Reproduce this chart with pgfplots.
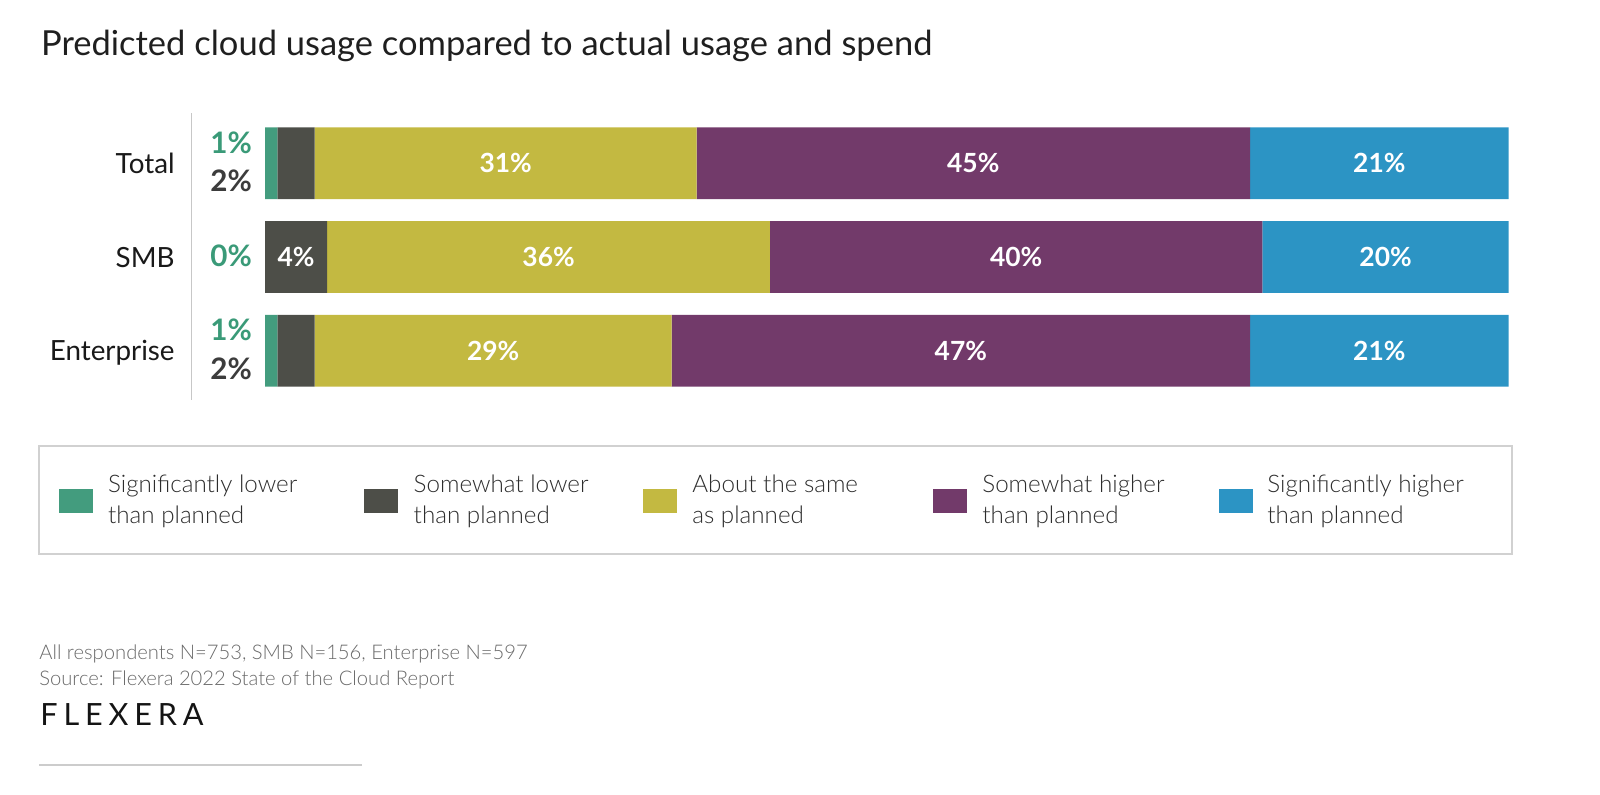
\documentclass[border=0pt]{standalone}
\usepackage{pgfplots}
\pgfplotsset{compat=1.18}
\usepackage{pgfplotstable}
\usepackage{fontspec}
\setmainfont{Lato}
\newfontfamily\lightfont{Lato Light}
\definecolor{cgreen}{RGB}{67,156,126}
\definecolor{cdark}{RGB}{77,78,72}
\definecolor{colive}{RGB}{195,185,65}
\definecolor{cpurple}{RGB}{114,58,106}
\definecolor{cblue}{RGB}{44,148,196}
\definecolor{tgreen}{RGB}{58,154,120}
\definecolor{tdark}{RGB}{60,60,60}
\definecolor{legtext}{RGB}{45,45,45}
\definecolor{foot}{RGB}{105,105,105}

\pgfplotstableread{
row sigl soml same somh sigh
0 1.0 3.0 30.7 44.5 20.8
1 0.0 5.0 35.6 39.6 19.8
2 1.0 3.0 28.7 46.5 20.8
}\datatab

\tikzset{
  catlab/.style={anchor=base east,inner sep=0,text=black!90,font=\fontsize{13.9}{16}\selectfont,xshift=-45pt,yshift=-5.05pt},
  outlab/.style={anchor=base east,inner sep=0,font=\fontsize{14.8}{16}\selectfont\bfseries,xshift=-6.35pt},
  inlab/.style={anchor=base,inner sep=0,text=white,yshift=-4.6pt,font=\fontsize{13.2}{15}\selectfont\bfseries},
  legl/.style={anchor=base west,inner sep=0,text=legtext,font=\lightfont\fontsize{12.1}{14}\selectfont},
  footl/.style={anchor=base west,inner sep=0,text=foot,font=\lightfont\fontsize{10.1}{12}\selectfont},
}

\begin{document}
\begin{tikzpicture}[x=0.5pt,y=-0.5pt]
\useasboundingbox (0,0) rectangle (1600,794);
% title
\node[anchor=base west,inner sep=0,text=black!88,font=\fontsize{17.25}{20}\selectfont] at (40.7,55) {Predicted cloud usage compared to actual usage and spend};
% separator line
\draw[color=black!22,line width=0.6pt] (191.7,113) -- (191.7,400);
\begin{axis}[
  at={(132.5pt,-58.15pt)}, anchor=north west,
  scale only axis, width=621.85pt, height=140.7pt,
  xmin=0, xmax=100, ymin=-0.5, ymax=2.5, y dir=reverse,
  xbar stacked, bar width=35.85pt,
  xtick=\empty, ytick=\empty,
  axis line style={draw=none},
  clip=false,
]
\addplot[fill=cgreen, draw=none] table[y=row, x=sigl]{\datatab};
\addplot[fill=cdark, draw=none] table[y=row, x=soml]{\datatab};
\addplot[fill=colive, draw=none] table[y=row, x=same]{\datatab};
\addplot[fill=cpurple, draw=none] table[y=row, x=somh]{\datatab};
\addplot[fill=cblue, draw=none] table[y=row, x=sigh]{\datatab};
% category labels
\node[catlab] at (axis cs:0,0) {Total};
\node[catlab] at (axis cs:0,1) {SMB};
\node[catlab] at (axis cs:0,2) {Enterprise};
% outside labels
\node[outlab,text=tgreen,yshift=4.95pt] at (axis cs:0,0) {1\%};
\node[outlab,text=tdark,yshift=-14.25pt] at (axis cs:0,0) {2\%};
\node[outlab,text=tgreen,yshift=-4.95pt] at (axis cs:0,1) {0\%};
\node[outlab,text=tgreen,yshift=5.05pt] at (axis cs:0,2) {1\%};
\node[outlab,text=tdark,yshift=-14.25pt] at (axis cs:0,2) {2\%};
% anchors for inside labels
\coordinate (a1) at (axis cs:19.35,0);
\coordinate (a2) at (axis cs:56.95,0);
\coordinate (a3) at (axis cs:89.6,0);
\coordinate (b0) at (axis cs:2.5,1);
\coordinate (b1) at (axis cs:22.8,1);
\coordinate (b2) at (axis cs:60.4,1);
\coordinate (b3) at (axis cs:90.1,1);
\coordinate (c1) at (axis cs:18.35,2);
\coordinate (c2) at (axis cs:55.95,2);
\coordinate (c3) at (axis cs:89.6,2);
\end{axis}
% inside labels
\node[inlab] at (a1) {31\%};
\node[inlab] at (a2) {45\%};
\node[inlab] at (a3) {21\%};
\node[inlab] at (b0) {4\%};
\node[inlab] at (b1) {36\%};
\node[inlab] at (b2) {40\%};
\node[inlab] at (b3) {20\%};
\node[inlab] at (c1) {29\%};
\node[inlab] at (c2) {47\%};
\node[inlab] at (c3) {21\%};
% legend
\draw[color=black!18,line width=0.7pt] (39,446) rectangle (1512,554);
\fill[cgreen] (59,488.7) rectangle ++(33.7,24.6);
\fill[cdark] (364.3,488.7) rectangle ++(33.7,24.6);
\fill[colive] (643,488.7) rectangle ++(33.7,24.6);
\fill[cpurple] (933,488.7) rectangle ++(33.7,24.6);
\fill[cblue] (1219,488.7) rectangle ++(33.7,24.6);
\node[legl] at (107.7,492.3) {Significantly lower};
\node[legl] at (107.7,523.3) {than planned};
\node[legl] at (413.3,492.3) {Somewhat lower};
\node[legl] at (413.3,523.3) {than planned};
\node[legl] at (692,492.3) {About the same};
\node[legl] at (692,523.3) {as planned};
\node[legl] at (982,492.3) {Somewhat higher};
\node[legl] at (982,523.3) {than planned};
\node[legl] at (1267,492.3) {Significantly higher};
\node[legl] at (1267,523.3) {than planned};
% footnote
\node[footl] at (39,659) {All respondents N=753, SMB N=156, Enterprise N=597};
\node[footl] at (39,685) {Source: Flexera 2022 State of the Cloud Report};
\node[anchor=base west,inner sep=0,text=black!92,font=\fontsize{15.3}{18}\selectfont\addfontfeature{LetterSpace=19}] at (40,725) {FLEXERA};
\draw[color=black!20,line width=0.7pt] (39,765) -- (362,765);
\end{tikzpicture}
\end{document}
